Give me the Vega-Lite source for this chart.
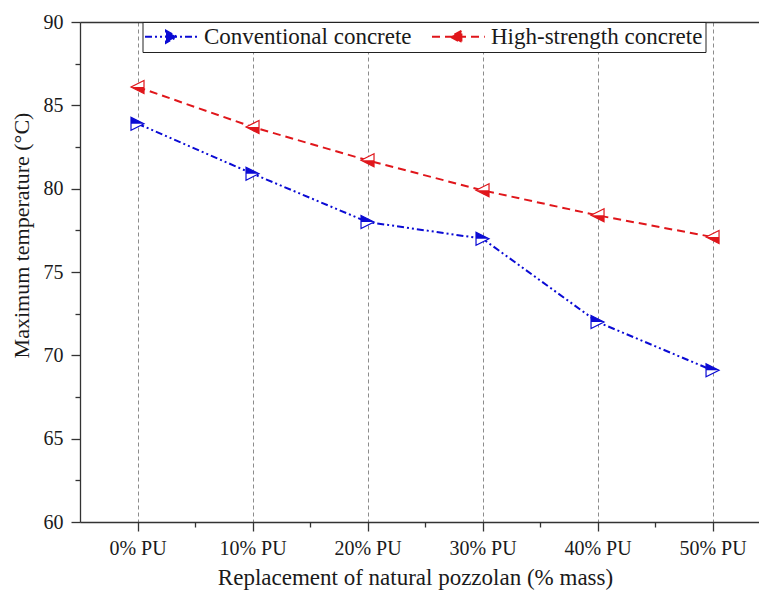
{
  "$schema": "https://vega.github.io/schema/vega-lite/v6.json",
  "width": 679,
  "height": 500,
  "autosize": {"type": "none"},
  "padding": {"left": 80, "top": 22, "right": 0, "bottom": 70},
  "background": "white",
  "config": {
    "view": {"stroke": null},
    "font": "Liberation Serif",
    "axis": {
      "labelFont": "Liberation Serif",
      "titleFont": "Liberation Serif",
      "labelColor": "#1a1a1a",
      "titleColor": "#1a1a1a",
      "titleFontWeight": "normal",
      "domainColor": "#333333",
      "tickColor": "#333333",
      "domainWidth": 1.3,
      "tickWidth": 1.3
    }
  },
  "data": {
    "values": [
      {"pct": 0, "series": "Conventional concrete", "temp": 83.9},
      {"pct": 10, "series": "Conventional concrete", "temp": 80.9},
      {"pct": 20, "series": "Conventional concrete", "temp": 78.0},
      {"pct": 30, "series": "Conventional concrete", "temp": 77.0},
      {"pct": 40, "series": "Conventional concrete", "temp": 72.0},
      {"pct": 50, "series": "Conventional concrete", "temp": 69.1},
      {"pct": 0, "series": "High-strength concrete", "temp": 86.1},
      {"pct": 10, "series": "High-strength concrete", "temp": 83.7},
      {"pct": 20, "series": "High-strength concrete", "temp": 81.7},
      {"pct": 30, "series": "High-strength concrete", "temp": 79.9},
      {"pct": 40, "series": "High-strength concrete", "temp": 78.4},
      {"pct": 50, "series": "High-strength concrete", "temp": 77.1}
    ]
  },
  "layer": [
    {
      "transform": [{"filter": "datum.series === 'Conventional concrete'"}],
      "mark": {"type": "line", "strokeWidth": 2, "color": "#0b0bd4", "strokeDash": [7, 3, 2, 3, 2, 3]},
      "encoding": {
        "x": {
          "field": "pct", "type": "quantitative",
          "scale": {"domain": [-5, 54.04], "nice": false, "zero": false},
          "axis": {
            "orient": "bottom",
            "values": [0, 10, 20, 30, 40, 50],
            "labelExpr": "datum.value + '% PU'",
            "labelFontSize": 20,
            "tickSize": 9,
            "labelPadding": 7,
            "grid": true,
            "gridDash": [4, 3],
            "gridColor": "#8c8c8c",
            "gridWidth": 1,
            "title": "Replacement of natural pozzolan (% mass)",
            "titleFontSize": 23,
            "titlePadding": 8,
            "titleX": 335
          }
        },
        "y": {
          "field": "temp", "type": "quantitative",
          "scale": {"domain": [60, 90], "nice": false, "zero": false},
          "axis": {
            "orient": "left",
            "values": [60, 65, 70, 75, 80, 85, 90],
            "labelFontSize": 20,
            "tickSize": 9,
            "labelPadding": 8,
            "grid": false,
            "title": "Maximum temperature (°C)",
            "titleFontSize": 22,
            "titlePadding": 10,
            "titleY": 213
          }
        }
      }
    },
    {
      "transform": [{"filter": "datum.series === 'High-strength concrete'"}],
      "mark": {"type": "line", "strokeWidth": 2, "color": "#e0161b", "strokeDash": [8, 5]},
      "encoding": {
        "x": {"field": "pct", "type": "quantitative", "axis": {"orient": "top", "ticks": false, "labels": false, "domain": true, "grid": false, "title": null}},
        "y": {"field": "temp", "type": "quantitative", "axis": null}
      }
    },
    {
      "transform": [{"filter": "datum.series === 'Conventional concrete'"}],
      "mark": {"type": "point", "filled": true, "fill": "white", "stroke": "#0b0bd4", "strokeWidth": 1.2, "opacity": 1, "size": 169, "shape": "M -1 -1 L 1 0 L -1 1 Z"},
      "encoding": {
        "x": {"field": "pct", "type": "quantitative", "axis": {"orient": "bottom", "values": [5, 15, 25, 35, 45], "labels": false, "domain": false, "grid": false, "tickSize": 5, "title": null}},
        "y": {"field": "temp", "type": "quantitative", "axis": {"orient": "left", "values": [62.5, 67.5, 72.5, 77.5, 82.5, 87.5], "labels": false, "domain": false, "grid": false, "tickSize": 5, "title": null}}
      }
    },
    {
      "transform": [{"filter": "datum.series === 'Conventional concrete'"}],
      "mark": {"type": "point", "filled": true, "fill": "#0b0bd4", "strokeWidth": 0, "opacity": 1, "size": 169, "shape": "M -1 -1 L 1 0 L -1 0 Z"},
      "encoding": {
        "x": {"field": "pct", "type": "quantitative", "axis": null},
        "y": {"field": "temp", "type": "quantitative", "axis": null}
      }
    },
    {
      "transform": [{"filter": "datum.series === 'High-strength concrete'"}],
      "mark": {"type": "point", "filled": true, "fill": "white", "stroke": "#e0161b", "strokeWidth": 1.2, "opacity": 1, "size": 169, "shape": "M 1 -1 L -1 0 L 1 1 Z"},
      "encoding": {
        "x": {"field": "pct", "type": "quantitative", "axis": null},
        "y": {"field": "temp", "type": "quantitative", "axis": null}
      }
    },
    {
      "transform": [{"filter": "datum.series === 'High-strength concrete'"}],
      "mark": {"type": "point", "filled": true, "fill": "#e0161b", "strokeWidth": 0, "opacity": 1, "size": 169, "shape": "M 1 1 L -1 0 L 1 0 Z"},
      "encoding": {
        "x": {"field": "pct", "type": "quantitative", "axis": null},
        "y": {"field": "temp", "type": "quantitative", "axis": null}
      }
    },
    {
      "transform": [{"filter": "false"}],
      "mark": {"type": "point", "filled": true, "opacity": 1},
      "encoding": {
        "x": {"field": "pct", "type": "quantitative", "axis": null},
        "y": {"field": "temp", "type": "quantitative", "axis": null},
        "fill": {
          "field": "series", "type": "nominal",
          "scale": {"domain": ["Conventional concrete", "High-strength concrete"], "range": ["#0b0bd4", "#e0161b"]},
          "legend": {
            "orient": "none",
            "legendX": 62.5,
            "legendY": 0,
            "direction": "horizontal",
            "title": null,
            "strokeColor": "#222222",
            "fillColor": "white",
            "padding": 3,
            "symbolSize": 144,
            "symbolStrokeWidth": 2,
            "symbolOpacity": 1,
            "labelFont": "Liberation Serif",
            "labelFontSize": 23,
            "labelLimit": 400,
            "labelColor": "#1a1a1a",
            "labelOffset": 35.5,
            "columnPadding": 15
          }
        },
        "stroke": {
          "field": "series", "type": "nominal",
          "scale": {"domain": ["Conventional concrete", "High-strength concrete"], "range": ["#0b0bd4", "#e0161b"]}
        },
        "shape": {
          "field": "series", "type": "nominal",
          "scale": {"domain": ["Conventional concrete", "High-strength concrete"], "range": ["M -2 0 L 6.8 0 M 1.5 -1 L 3.3 0 L 1.5 1 Z", "M -2 0 L 6.8 0 M 2.9 -1 L 1.1 0 L 2.9 1 Z"]}
        },
        "strokeDash": {
          "field": "series", "type": "nominal",
          "scale": {"domain": ["Conventional concrete", "High-strength concrete"], "range": [[7, 3, 2, 3, 2, 3], [8, 5]]}
        }
      }
    }
  ],
  "resolve": {"axis": {"x": "independent", "y": "independent"}}
}
